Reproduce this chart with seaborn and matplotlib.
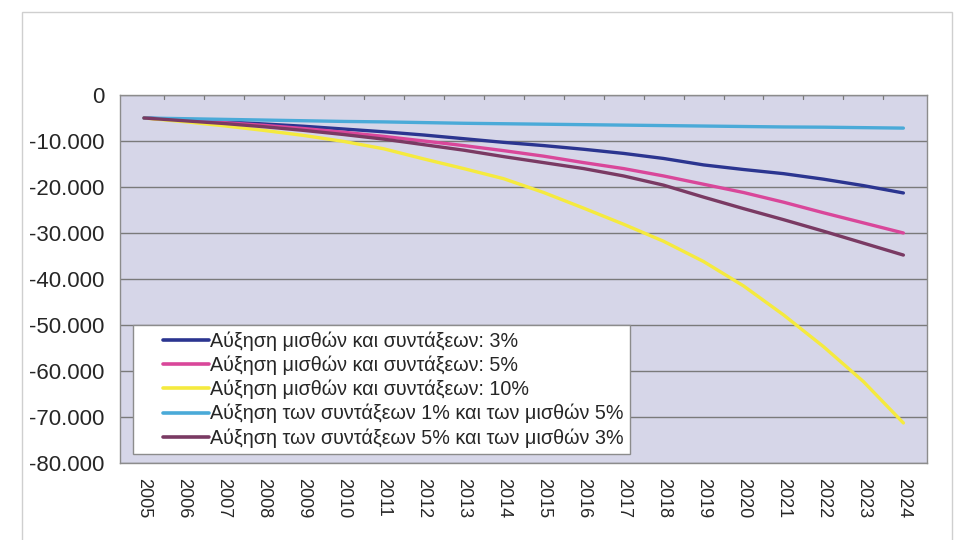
import matplotlib
matplotlib.use("Agg")
import numpy as np
import pandas as pd
import matplotlib.pyplot as plt
import seaborn as sns
from matplotlib.ticker import FuncFormatter, MultipleLocator
from matplotlib.patches import Rectangle
from matplotlib.lines import Line2D
from matplotlib.legend_handler import HandlerLine2D

# ── Data ──────────────────────────────────────────────────────────────────────
years = [str(y) for y in range(2005, 2025)]

labels = [
    "Αύξηση μισθών και συντάξεων: 3%",
    "Αύξηση μισθών και συντάξεων: 5%",
    "Αύξηση μισθών και συντάξεων: 10%",
    "Αύξηση των συντάξεων 1% και των μισθών 5%",
    "Αύξηση των συντάξεων 5% και των μισθών 3%",
]

s_3 = [-5000, -5400, -5800, -6300, -6800, -7400, -8000, -8700, -9500, -10300,
       -11000, -11800, -12700, -13800, -15200, -16200, -17100, -18300, -19700, -21300]
s_5 = [-5000, -5500, -6000, -6600, -7300, -8100, -9000, -10000, -11000, -12100,
       -13300, -14700, -16000, -17600, -19400, -21200, -23300, -25600, -27800, -30000]
s_10 = [-5000, -5800, -6700, -7700, -8800, -10100, -11700, -13900, -16000, -18200,
        -21200, -24600, -28100, -31800, -36200, -41500, -47800, -54700, -62300, -71300]
s_1_5 = [-5000, -5150, -5300, -5450, -5600, -5750, -5850, -6000, -6150, -6250,
         -6350, -6450, -6550, -6650, -6750, -6850, -6950, -7000, -7100, -7200]
s_5_3 = [-5000, -5600, -6200, -6900, -7700, -8600, -9600, -10800, -12000, -13400,
         -14700, -16000, -17600, -19600, -22200, -24700, -27100, -29600, -32200, -34800]

colors = ["#2B3590", "#D9479A", "#F5EA3E", "#4AAAD8", "#7A3A63"]

df = pd.concat([
    pd.DataFrame({"year": years, "value": vals, "series": lab})
    for lab, vals in zip(labels, [s_3, s_5, s_10, s_1_5, s_5_3])
])
df["x"] = df["year"].map({y: i for i, y in enumerate(years)})


# legend line drawn only in the right part of the handle box (extra left gap)
class PaddedLine(HandlerLine2D):
    def create_artists(self, legend, orig_handle, xdescent, ydescent,
                       width, height, fontsize, trans):
        arts = super().create_artists(legend, orig_handle, xdescent, ydescent,
                                      width, height, fontsize, trans)
        for a in arts:
            if isinstance(a, Line2D):
                xd = np.asarray(a.get_xdata(), dtype=float)
                if len(xd) >= 2:
                    a.set_xdata(np.linspace(xd[0] + width * 0.34, xd[-1], len(xd)))
        return arts


# ── Plot ──────────────────────────────────────────────────────────────────────
sns.set_style("white")
plt.rcParams["font.family"] = ["Liberation Sans", "DejaVu Sans"]

fig = plt.figure(figsize=(9.6, 5.4), dpi=100)
ax = fig.add_axes([0.125, 0.1426, 0.841, 0.6815])
ax.set_facecolor("#D6D6E8")

sns.lineplot(data=df, x="x", y="value", hue="series", hue_order=labels,
             palette=dict(zip(labels, colors)), linewidth=2.4, ax=ax,
             legend=False)

ax.set_xlim(-0.6, 19.6)
ax.set_ylim(-80000, 0)
ax.yaxis.set_major_locator(MultipleLocator(10000))
ax.yaxis.set_major_formatter(FuncFormatter(
    lambda v, p: "0" if v == 0 else f"{int(v):,}".replace(",", ".")))
ax.grid(axis="y", color="#7A7A7A", linewidth=1.0)
ax.set_axisbelow(True)

ax.set_xticks(range(len(years)))
ax.set_xticklabels(years, rotation=-90, fontsize=13)
ax.tick_params(axis="x", length=0, pad=11)
ax.tick_params(axis="y", labelsize=16, length=5, direction="out", color="#666666", pad=6)
ax.set_xlabel("")
ax.set_ylabel("")

# category boundary ticks along the top (value axis crosses at 0)
for b in np.arange(0.5, len(years) - 1, 1):
    ax.plot([b, b], [0, -900], color="#777777", linewidth=0.9, clip_on=False)

for side in ["left", "right", "top", "bottom"]:
    ax.spines[side].set_color("#8C8C8C")
    ax.spines[side].set_linewidth(1.0)

handles = [Line2D([], [], color=c, linewidth=2.6) for c in colors]
leg = fig.legend(handles, labels, loc="lower left",
                 bbox_to_anchor=(0.139, 0.160), fontsize=14.2,
                 handler_map={h: PaddedLine() for h in handles},
                 handlelength=3.55, handletextpad=0.05, labelspacing=0.24,
                 borderpad=0.3, borderaxespad=0, frameon=True, fancybox=False)
leg.get_frame().set_edgecolor("#8C8C8C")
leg.get_frame().set_linewidth(1.0)
leg.get_frame().set_facecolor("white")
leg.get_frame().set_alpha(1)

# faint outer frame of the chart object
fig.patches.append(Rectangle((22 / 960, -0.02), 930 / 960, 1 - 12 / 540 + 0.02,
                             transform=fig.transFigure, fill=False,
                             edgecolor="#CFCFCF", linewidth=1.0))

fig.savefig("out.png", dpi=100)
